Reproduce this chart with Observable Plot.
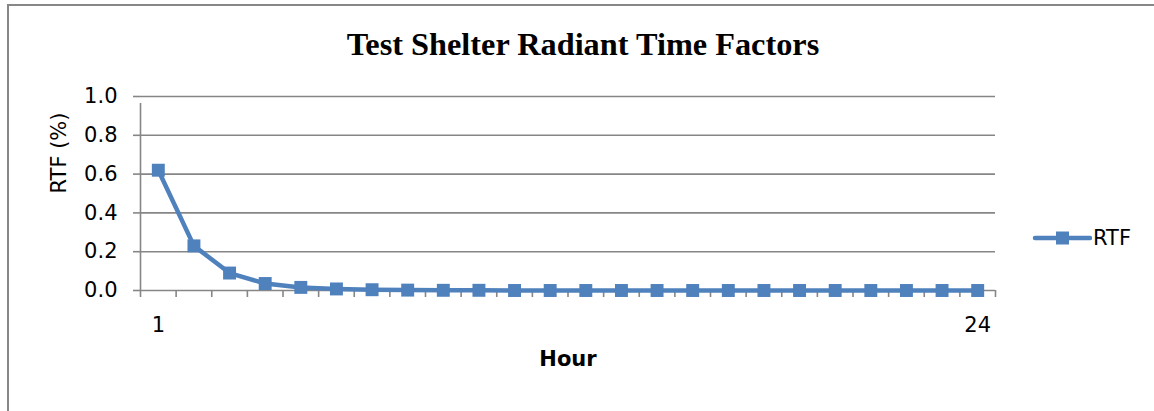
<!DOCTYPE html>
<html>
<head>
<meta charset="utf-8">
<script src="https://cdn.jsdelivr.net/npm/d3@7"></script>
<script src="https://cdn.jsdelivr.net/npm/@observablehq/plot@0.6"></script>
<style>
  html, body { margin: 0; padding: 0; background: #fff; }
  #wrap { position: relative; width: 1154px; height: 411px; overflow: hidden; font-family: "DejaVu Sans", sans-serif; }
  #border { position: absolute; left: 7px; top: 4px; width: 1200px; height: 500px; border-left: 2px solid #878787; border-top: 2px solid #878787; }
  #title { position: absolute; left: 0; width: 1166px; top: 26px; text-align: center; font-family: "Liberation Serif", "Times New Roman", serif; font-weight: bold; font-size: 32.3px; color: #000; line-height: 37px; }
  #chart { position: absolute; left: 0; top: 0; }
  #legend { position: absolute; left: 1032px; top: 224px; display: flex; align-items: center; font-size: 21px; color: #000; }
</style>
</head>
<body>
<div id="wrap">
  <div id="border"></div>
  <div id="chart"></div>
  <div id="title">Test Shelter Radiant Time Factors</div>
  <div id="legend">
    <svg width="60" height="28"><line x1="3" y1="14" x2="58" y2="14" stroke="#4F81BD" stroke-width="4.5" stroke-linecap="round"/><rect x="24" y="7.5" width="13" height="13" fill="#4F81BD"/></svg>
    <span style="margin-left:1px">RTF</span>
  </div>
</div>
<script>
const hours = [1,2,3,4,5,6,7,8,9,10,11,12,13,14,15,16,17,18,19,20,21,22,23,24];
const rtf = [0.62,0.23,0.09,0.036,0.016,0.008,0.004,0.002,0.001,0.001,0,0,0,0,0,0,0,0,0,0,0,0,0,0];
const yTicks = [0,0.2,0.4,0.6,0.8,1.0];
const xTickLabels = [1,24];
const seriesName = "RTF";

const data = hours.map((h,i) => ({hour: h, value: rtf[i], series: seriesName}));
const boundaries = hours.map(h => h - 0.5).concat([hours[hours.length-1] + 0.5]);
const blue = "#4F81BD";
const gridGray = "#868686";

const chart = Plot.plot({
  width: 1154,
  height: 411,
  marginLeft: 140,
  marginRight: 159,
  marginTop: 96,
  marginBottom: 121,
  style: {fontFamily: "'DejaVu Sans', sans-serif", fontSize: "21px", color: "#000", background: "transparent"},
  x: {domain: [0.5, 24.5], axis: null},
  y: {domain: [0, 1], axis: null},
  marks: [
    Plot.gridY(yTicks, {stroke: gridGray, strokeOpacity: 1, strokeWidth: 1.6}),
    Plot.axisY(yTicks, {anchor: "left", tickSize: 7, tickPadding: 16, stroke: gridGray, strokeWidth: 1.6, tickFormat: d3.format(".1f"), fontSize: 21, label: null}),
    Plot.ruleX([0.5], {y1: 0, y2: 1, stroke: gridGray, strokeWidth: 1.6, insetBottom: -7}),
    Plot.axisX(boundaries, {anchor: "bottom", tickSize: 7, stroke: gridGray, strokeWidth: 1.6, tickFormat: () => "", label: null}),
    Plot.axisX(xTickLabels, {anchor: "bottom", tickSize: 0, tickPadding: 27, fontSize: 21, label: null}),
    Plot.text(["RTF (%)"], {frameAnchor: "left", dx: -81, rotate: -90, fontSize: 21}),
    Plot.text(["Hour"], {frameAnchor: "bottom", dy: 75, fontSize: 21, fontWeight: "bold"}),
    Plot.line(data, {x: "hour", y: "value", stroke: blue, strokeWidth: 4.5}),
    Plot.dot(data, {x: "hour", y: "value", symbol: "square", r: 7.3, fill: blue, stroke: "none"})
  ]
});
document.getElementById("chart").appendChild(chart);
</script>
</body>
</html>
